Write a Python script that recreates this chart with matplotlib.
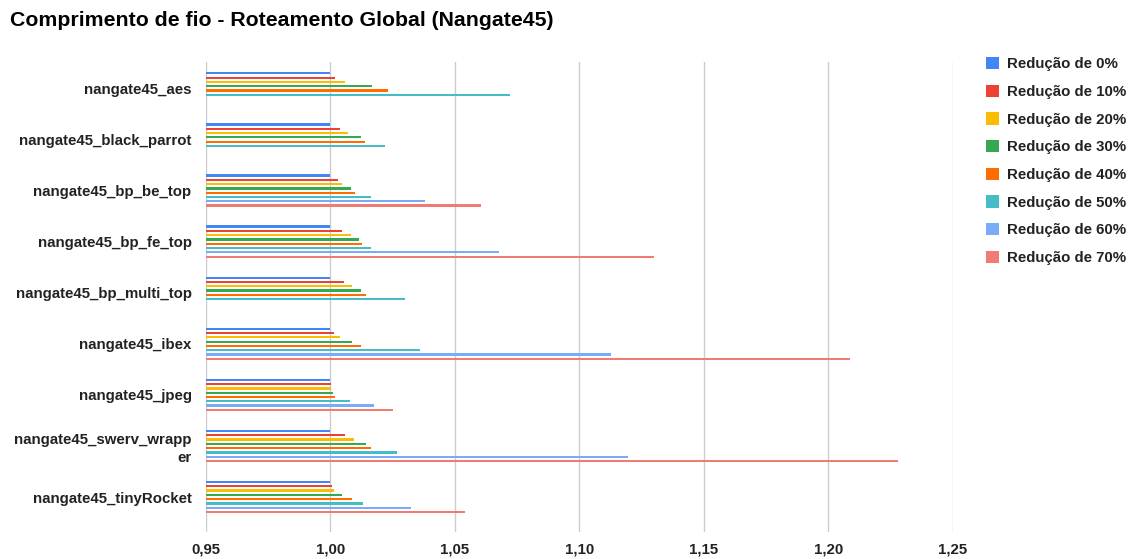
import numpy as np
import matplotlib
matplotlib.use("Agg")
import matplotlib.pyplot as plt

plt.rcParams['font.family'] = ['Liberation Sans', 'DejaVu Sans']

designs = [
    "nangate45_aes",
    "nangate45_black_parrot",
    "nangate45_bp_be_top",
    "nangate45_bp_fe_top",
    "nangate45_bp_multi_top",
    "nangate45_ibex",
    "nangate45_jpeg",
    "nangate45_swerv_wrapp\ner",
    "nangate45_tinyRocket",
]

series_labels = [
    "Redução de 0%", "Redução de 10%", "Redução de 20%", "Redução de 30%",
    "Redução de 40%", "Redução de 50%", "Redução de 60%", "Redução de 70%",
]

nan = np.nan
red_0 = [1.000, 1.000, 1.000, 1.000, 1.000, 1.000, 1.000, 1.000, 1.000]
red_10 = [1.002, 1.004, 1.003, 1.0045, 1.0054, 1.0016, 1.0002, 1.0057, 1.0007]
red_20 = [1.006, 1.007, 1.0045, 1.0084, 1.0085, 1.0037, 1.0004, 1.0093, 1.0014]
red_30 = [1.0166, 1.0123, 1.0084, 1.0114, 1.0123, 1.0088, 1.0011, 1.0143, 1.0045]
red_40 = [1.023, 1.014, 1.0097, 1.0127, 1.0144, 1.0124, 1.0018, 1.0163, 1.0088]
red_50 = [1.0722, 1.022, 1.0161, 1.0161, 1.0298, 1.0358, 1.0079, 1.0267, 1.0132]
red_60 = [nan, nan, 1.0381, 1.0678, nan, 1.1127, 1.0174, 1.1195, 1.0324]
red_70 = [nan, nan, 1.0603, 1.1298, nan, 1.2088, 1.0251, 1.2282, 1.0539]

series = [red_0, red_10, red_20, red_30, red_40, red_50, red_60, red_70]
colors = ["#4285F4", "#EA4335", "#FBBC04", "#34A853",
          "#FF6D01", "#46BDC6", "#7BAAF7", "#F07B72"]

xticks = [0.95, 1.00, 1.05, 1.10, 1.15, 1.20, 1.25]
base = 0.95

W, H = 1130, 559
fig = plt.figure(figsize=(W / 100, H / 100), dpi=100)
ax = fig.add_axes([206 / W, 1 - 532 / H, (953 - 206) / W, (532 - 62) / H])

y = np.arange(len(designs))
slot = 0.0841
thick = 0.044
handles = []
for k, (vals, col, lab) in enumerate(zip(series, colors, series_labels)):
    v = np.array(vals, dtype=float)
    offs = y + (k - 3.5) * slot
    mask = ~np.isnan(v)
    h = ax.barh(offs[mask], v[mask] - base, left=base, height=thick,
                color=col, label=lab, zorder=3, linewidth=0)
    handles.append(h)

ax.set_xlim(0.95, 1.25 + 0.0001)
ax.set_ylim(len(designs) - 1 + 0.685, -0.517)
ax.set_xticks(xticks)
ax.set_xticklabels([f"{t:.2f}".replace(".", ",") for t in xticks],
                   fontsize=10.8, fontweight="bold", color="#222222")
ax.set_yticks(y)
ax.set_yticklabels(designs, fontsize=10.8, fontweight="bold", color="#222222",
                   ha="right", multialignment="right", linespacing=1.3)
ax.tick_params(axis="both", length=0)
ax.tick_params(axis="x", pad=7.8)
ax.tick_params(axis="y", pad=10.4)
for s in ax.spines.values():
    s.set_visible(False)
ax.grid(axis="x", color="#cccccc", linewidth=1, zorder=0)
ax.set_axisbelow(True)

fig.text(10 / W, 1 - 21 / H, "Comprimento de fio - Roteamento Global (Nangate45)",
         fontsize=15.3, fontweight="bold", color="#000000", va="center", ha="left")

leg = fig.legend(handles=handles, labels=series_labels, loc="upper left",
                 bbox_to_anchor=(986 / W, 1 - 57 / H), frameon=False,
                 prop={"size": 10.8, "weight": "bold"}, handlelength=0.87,
                 handleheight=0.87, handletextpad=0.55, labelspacing=0.895,
                 borderaxespad=0, borderpad=0)
for t in leg.get_texts():
    t.set_color("#222222")

fig.savefig("out.png", dpi=100)
